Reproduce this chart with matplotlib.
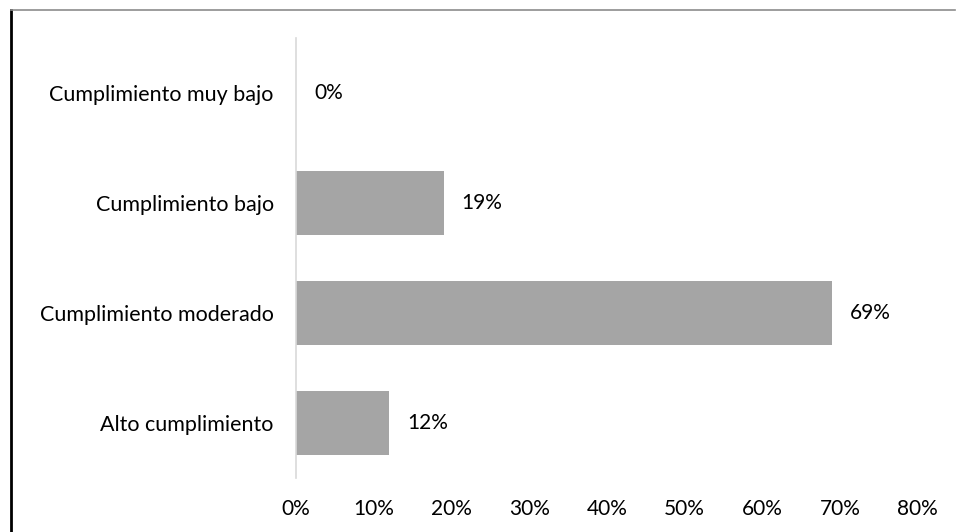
import matplotlib
matplotlib.use("Agg")
import matplotlib.pyplot as plt
from matplotlib.lines import Line2D
from matplotlib.ticker import FuncFormatter

categories = ["Cumplimiento muy bajo", "Cumplimiento bajo", "Cumplimiento moderado", "Alto cumplimiento"]
values = [0, 19, 69, 12]
xticks = [0, 10, 20, 30, 40, 50, 60, 70, 80]

plt.rcParams['font.family'] = ['Lato', 'DejaVu Sans']

fig = plt.figure(figsize=(9.56, 5.32), dpi=100)
ax = fig.add_axes([296/956, 1-478/532, (917.7-296)/956, (478-38)/532])

ypos = list(range(len(categories)))
ax.barh(ypos, values, height=0.59, color="#A5A5A5")
ax.set_ylim(len(categories)-0.5, -0.5)
ax.set_xlim(0, 80)
ax.set_yticks(ypos)
ax.set_yticklabels(categories, fontsize=15.5, color="#000000")
ax.set_xticks(xticks)
ax.xaxis.set_major_formatter(FuncFormatter(lambda v, p: f"{int(v)}%"))
ax.tick_params(axis='x', labelsize=15, length=0, pad=15, colors="#000000")
ax.tick_params(axis='y', length=0, pad=16)
for s in ['top', 'right', 'bottom']:
    ax.spines[s].set_visible(False)
ax.spines['left'].set_color("#D9D9D9")
ax.spines['left'].set_linewidth(1.2)

for y, v in zip(ypos, values):
    ax.annotate(f"{v}%", xy=(v, y), xytext=(13, 0), textcoords="offset points",
                va="center", ha="left", fontsize=15, color="#000000")

fig.add_artist(Line2D([11/956, 11/956], [0, 1-10/532], transform=fig.transFigure, color="black", lw=2))
fig.add_artist(Line2D([11/956, 955/956], [1-10/532, 1-10/532], transform=fig.transFigure, color="#8C8C8C", lw=1.2))

fig.savefig("out.png", dpi=100)
